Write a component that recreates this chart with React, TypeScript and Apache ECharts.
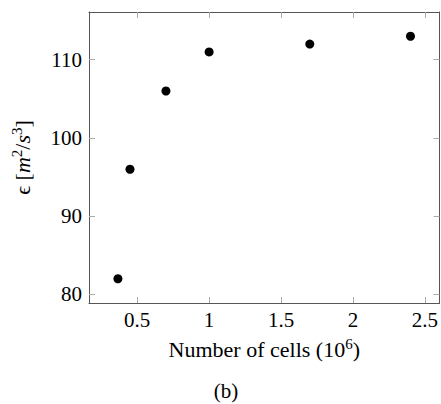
import React, { useEffect, useRef } from "react";
import * as echarts from "echarts";

const cells = [0.366, 0.45, 0.7, 1.0, 1.7, 2.4];
const epsilon = [82, 96, 106, 111, 112, 113];
const xTicks = [0.5, 1, 1.5, 2, 2.5];
const yTicks = [80, 90, 100, 110];

const FONT = "'Liberation Serif', 'DejaVu Serif', serif";

export default function App() {
  const ref = useRef<HTMLDivElement>(null);
  useEffect(() => {
    if (!ref.current) return;
    const chart = echarts.init(ref.current, null, { renderer: "svg" });
    const xMin = 0.165, xMax = 2.602, yMin = 78.9, yMax = 116.1;
    const tickStyle = { show: true, inside: true, length: 6, lineStyle: { color: "#aaa", width: 1 } };
    const lineStyle = { show: true, lineStyle: { color: "#555", width: 1 } };
    chart.setOption({
      animation: false,
      backgroundColor: "#fff",
      grid: { left: 89, right: 1, top: 12, bottom: 101, containLabel: false },
      xAxis: [
        {
          type: "value", min: xMin, max: xMax, position: "bottom",
          axisLine: { ...lineStyle, onZero: false },
          axisTick: { ...tickStyle, customValues: xTicks },
          axisLabel: { customValues: xTicks, margin: 6, color: "#000", fontFamily: FONT, fontSize: 21, formatter: (v: number) => String(v) },
          splitLine: { show: false },
          name: "{t|Number of cells (10}{s|6}{t|)}",
          nameLocation: "middle", nameGap: 33,
          nameTextStyle: {
            rich: {
              t: { fontFamily: FONT, fontSize: 22, color: "#000", lineHeight: 24, verticalAlign: "bottom" },
              s: { fontFamily: FONT, fontSize: 15, color: "#000", lineHeight: 24, verticalAlign: "top" },
            },
          },
        },
        {
          type: "value", min: xMin, max: xMax, position: "top",
          axisLine: { ...lineStyle, onZero: false },
          axisTick: { ...tickStyle, customValues: xTicks },
          axisLabel: { show: false },
          splitLine: { show: false },
        },
      ],
      yAxis: [
        {
          type: "value", min: yMin, max: yMax, position: "left",
          axisLine: { ...lineStyle, onZero: false },
          axisTick: { ...tickStyle, customValues: yTicks },
          axisLabel: { customValues: yTicks, margin: 7, color: "#000", fontFamily: FONT, fontSize: 21 },
          splitLine: { show: false },
          name: "{e|ϵ [}{i|m}{s|2}{t|/}{i|s}{s|3}{t|]}",
          nameLocation: "middle", nameGap: 56, nameRotate: 90,
          nameTextStyle: {
            rich: {
              e: { fontFamily: FONT, fontSize: 22, color: "#000", lineHeight: 24, verticalAlign: "bottom" },
              t: { fontFamily: FONT, fontSize: 22, color: "#000", lineHeight: 24, verticalAlign: "bottom" },
              i: { fontFamily: FONT, fontStyle: "italic", fontSize: 22, color: "#000", lineHeight: 24, verticalAlign: "bottom" },
              s: { fontFamily: FONT, fontSize: 15, color: "#000", lineHeight: 24, verticalAlign: "top" },
            },
          },
        },
        {
          type: "value", min: yMin, max: yMax, position: "right",
          axisLine: { ...lineStyle, onZero: false },
          axisTick: { ...tickStyle, customValues: yTicks },
          axisLabel: { show: false },
          splitLine: { show: false },
        },
      ],
      graphic: [
        {
          type: "text", x: 226, y: 391,
          style: { text: "(b)", fontFamily: FONT, fontSize: 21, fill: "#000", align: "center", verticalAlign: "middle" },
        },
      ],
      series: [
        {
          type: "scatter",
          xAxisIndex: 0, yAxisIndex: 0,
          symbol: "circle", symbolSize: 9,
          itemStyle: { color: "#000", opacity: 1 },
          data: cells.map((c, i) => [c, epsilon[i]]),
        },
      ],
    });
    return () => chart.dispose();
  }, []);
  return <div ref={ref} style={{ position: "fixed", left: 0, top: 0, width: 441, height: 404 }} />;
}
